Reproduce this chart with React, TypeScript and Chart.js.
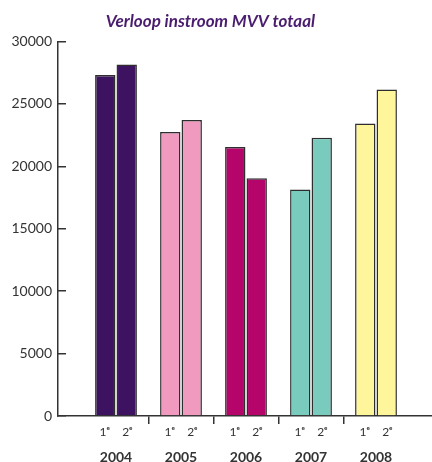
import React, { useEffect, useRef } from "react";
import { Chart, registerables } from "chart.js";

Chart.register(...registerables);

const YEARS = ["2004", "2005", "2006", "2007", "2008"];
const HALF_LABELS = ["1ᵉ", "2ᵉ"];
const FIRST_HALF = [27300, 22750, 21550, 18130, 23420];
const SECOND_HALF = [28150, 23700, 19050, 22280, 26150];
const YEAR_COLORS = ["#3d1260", "#f19ac0", "#b5056b", "#79ccbd", "#fff59a"];
const Y_TICKS = [0, 5000, 10000, 15000, 20000, 25000, 30000];
const TITLE = "Verloop instroom MVV totaal";

const AXIS_COLOR = "#333333";
const FONT = "Lato, 'Open Sans', sans-serif";

export default function App() {
  const canvasRef = useRef<HTMLCanvasElement | null>(null);

  useEffect(() => {
    document.body.style.margin = "0";
    document.body.style.overflow = "hidden";
    const canvas = canvasRef.current;
    if (!canvas) return;

    const positions = YEARS.map((_, i) => i + 1);
    const setTicks = (scale: any) => {
      scale.ticks = positions.map((v) => ({ value: v }));
    };

    const chart = new Chart(canvas, {
      type: "bar",
      data: {
        datasets: [
          {
            label: HALF_LABELS[0],
            data: FIRST_HALF.map((y, i) => ({ x: positions[i], y })),
            backgroundColor: YEAR_COLORS,
            borderColor: "#2e2e2e",
            borderWidth: 1.5,
            categoryPercentage: 0.66,
            barPercentage: 0.95,
          },
          {
            label: HALF_LABELS[1],
            data: SECOND_HALF.map((y, i) => ({ x: positions[i], y })),
            backgroundColor: YEAR_COLORS,
            borderColor: "#2e2e2e",
            borderWidth: 1.5,
            categoryPercentage: 0.66,
            barPercentage: 0.95,
          },
        ] as any,
      },
      options: {
        animation: false,
        responsive: true,
        maintainAspectRatio: false,
        layout: { padding: { left: 0, right: 0, top: 0, bottom: 0 } },
        plugins: {
          legend: { display: false },
          tooltip: { enabled: false },
          title: {
            display: true,
            text: TITLE + "   ",
            color: "#4a1d6e",
            font: { family: FONT, size: 17, weight: "bold", style: "italic" },
            padding: { top: 11, bottom: 10 },
          },
        },
        scales: {
          x: {
            type: "linear",
            position: "bottom",
            offset: false,
            min: 1 - 58 / 65,
            max: 1 + (432 - 116) / 65,
            afterBuildTicks: setTicks,
            afterFit: (scale: any) => {
              scale.height = 22;
            },
            border: { display: true, color: AXIS_COLOR, width: 1.5 },
            grid: {
              display: true,
              offset: true,
              drawOnChartArea: false,
              drawTicks: true,
              tickLength: 8,
              lineWidth: 1.5,
              tickColor: (ctx: any) =>
                ctx.index === 0 || ctx.index === undefined || ctx.type !== "tick"
                  ? "rgba(0,0,0,0)"
                  : AXIS_COLOR,
            },
            ticks: {
              color: AXIS_COLOR,
              font: { family: FONT, size: 12, lineHeight: 1 },
              padding: 2,
              maxRotation: 0,
              autoSkip: false,
              callback: () => HALF_LABELS[0] + "    " + HALF_LABELS[1],
            },
          },
          x2: {
            type: "linear",
            position: "bottom",
            offset: false,
            min: 1 - 58 / 65,
            max: 1 + (432 - 116) / 65,
            afterBuildTicks: setTicks,
            afterFit: (scale: any) => {
              scale.height = 24;
            },
            border: { display: false },
            grid: { display: false, drawTicks: false },
            ticks: {
              color: AXIS_COLOR,
              font: { family: FONT, size: 14, weight: "bold", lineHeight: 1 },
              padding: 12,
              maxRotation: 0,
              autoSkip: false,
              callback: (_v: any, i: number) => YEARS[i],
            },
          },
          y: {
            type: "linear",
            min: Y_TICKS[0],
            max: Y_TICKS[Y_TICKS.length - 1],
            afterBuildTicks: (scale: any) => {
              scale.ticks = Y_TICKS.map((v) => ({ value: v }));
            },
            afterFit: (scale: any) => {
              scale.width = 58;
            },
            border: { display: true, color: AXIS_COLOR, width: 1.5 },
            grid: {
              display: true,
              drawOnChartArea: false,
              drawTicks: true,
              tickLength: -8,
              lineWidth: 1.5,
              tickColor: AXIS_COLOR,
            },
            ticks: {
              color: AXIS_COLOR,
              font: { family: FONT, size: 14 },
              padding: 14,
              callback: (v: any) => String(v),
            },
          },
        },
      } as any,
    });

    return () => {
      chart.destroy();
    };
  }, []);

  return (
    <div style={{ position: "relative", width: 432, height: 462 }}>
      <canvas ref={canvasRef} />
    </div>
  );
}
